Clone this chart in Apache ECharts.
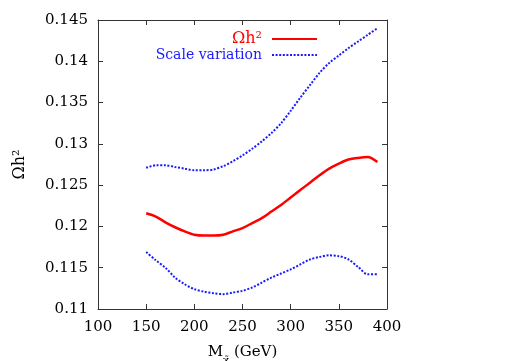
<!DOCTYPE html>
<html>
<head>
<meta charset="utf-8">
<script src="https://cdn.jsdelivr.net/npm/echarts@6/dist/echarts.min.js"></script>
<style>
  html, body { margin: 0; padding: 0; background: #fff; }
  #chart { width: 515px; height: 361px; }
</style>
</head>
<body>
<div id="chart"></div>
<script>
// mass points (GeV)
const masses = [150, 160, 170, 180, 190, 200, 210, 220, 230, 240, 250, 260, 270,
  280, 290, 300, 310, 320, 330, 340, 350, 360, 370, 380, 390]
// relic density, central value
const omega = [0.1216, 0.1212, 0.1205, 0.1199, 0.1194, 0.1190, 0.1189, 0.1189, 0.1190,
  0.1194, 0.1198, 0.1204, 0.1210, 0.1218, 0.1226, 0.1235, 0.1244, 0.1253, 0.1262,
  0.1270, 0.1276, 0.1281, 0.1283, 0.1284, 0.1278]
// scale variation band, upper and lower edge
const scaleUp = [0.1271, 0.1274, 0.1274, 0.1272, 0.1270, 0.1268, 0.1268, 0.1269, 0.1273,
  0.1279, 0.1286, 0.1294, 0.1303, 0.1313, 0.1325, 0.1340, 0.1356, 0.1371, 0.1386,
  0.1398, 0.1407, 0.1416, 0.1424, 0.1432, 0.1440]
const scaleDown = [0.1169, 0.1159, 0.1150, 0.1138, 0.1130, 0.1124, 0.1121, 0.1119, 0.1118,
  0.1120, 0.1122, 0.1126, 0.1132, 0.1138, 0.1143, 0.1148, 0.1154, 0.1160, 0.1163,
  0.1165, 0.1164, 0.1160, 0.1151, 0.1142, 0.1142]

const font = 'DejaVu Serif'
const axisColor = '#333'

function pairs(ys) {
  return masses.map((m, i) => [m, ys[i]])
}

const chart = echarts.init(document.getElementById('chart'))

const dotted = { color: '#1a1aff', width: 2, type: [2, 1.6] }

const legendBase = {
  right: 192,
  itemWidth: 45,
  itemHeight: 14,
  align: 'right',
  itemStyle: { opacity: 0 }
}

chart.setOption({
  animation: false,
  textStyle: { fontFamily: font },
  grid: { left: 98, right: 128, top: 20, bottom: 52, outerBoundsMode: 'none' },
  legend: [Object.assign({}, legendBase, {
    data: ['Ωh²'],
    top: 26,
    textStyle: { color: '#ff0000', fontSize: 16, fontFamily: font, padding: [0, 5, 0, 0] }
  }), Object.assign({}, legendBase, {
    data: ['Scale variation'],
    top: 43,
    textStyle: { color: '#1a1aff', fontSize: 14, fontFamily: font, padding: [0, 5, 0, 0] }
  })],
  xAxis: [{
    type: 'value',
    min: 100,
    max: 400,
    interval: 50,
    name: 'M{s|χ̃} (GeV)',
    nameLocation: 'middle',
    nameGap: 30,
    nameTextStyle: {
      fontSize: 15, color: '#000', fontFamily: font,
      rich: { s: { fontSize: 10, padding: [16, 0, 0, 0], fontFamily: font } }
    },
    axisLine: { onZero: false, lineStyle: { color: axisColor } },
    axisTick: { inside: true, length: 5, lineStyle: { color: axisColor } },
    axisLabel: { fontSize: 15, color: '#000', margin: 11, fontFamily: font },
    splitLine: { show: false }
  }, {
    type: 'value',
    position: 'top',
    min: 100,
    max: 400,
    interval: 50,
    axisLine: { onZero: false, lineStyle: { color: axisColor } },
    axisTick: { inside: true, length: 5, lineStyle: { color: axisColor } },
    axisLabel: { show: false },
    splitLine: { show: false }
  }],
  yAxis: [{
    type: 'value',
    min: 0.11,
    max: 0.145,
    interval: 0.005,
    name: 'Ωh²',
    nameLocation: 'middle',
    nameGap: 70,
    nameTextStyle: { fontSize: 16, color: '#000', fontFamily: font },
    axisLine: { show: true, onZero: false, lineStyle: { color: axisColor } },
    axisTick: { show: true, inside: true, length: 5, lineStyle: { color: axisColor } },
    axisLabel: {
      fontSize: 15, color: '#000', margin: 10, fontFamily: font,
      formatter: v => String(+v.toFixed(3))
    },
    splitLine: { show: false }
  }, {
    type: 'value',
    position: 'right',
    min: 0.11,
    max: 0.145,
    interval: 0.005,
    axisLine: { show: true, onZero: false, lineStyle: { color: axisColor } },
    axisTick: { show: true, inside: true, length: 5, lineStyle: { color: axisColor } },
    axisLabel: { show: false },
    splitLine: { show: false }
  }],
  series: [{
    name: 'Ωh²',
    type: 'line',
    data: pairs(omega),
    symbol: 'none',
    smooth: 0.3,
    lineStyle: { color: '#ff0000', width: 2.5 },
    itemStyle: { color: '#ff0000' }
  }, {
    name: 'Scale variation',
    type: 'line',
    data: pairs(scaleUp),
    symbol: 'none',
    smooth: 0.3,
    lineStyle: dotted,
    itemStyle: { color: '#1a1aff' }
  }, {
    name: 'Scale variation (low)',
    type: 'line',
    data: pairs(scaleDown),
    symbol: 'none',
    smooth: 0.3,
    lineStyle: dotted,
    itemStyle: { color: '#1a1aff' }
  }]
})
</script>
</body>
</html>
